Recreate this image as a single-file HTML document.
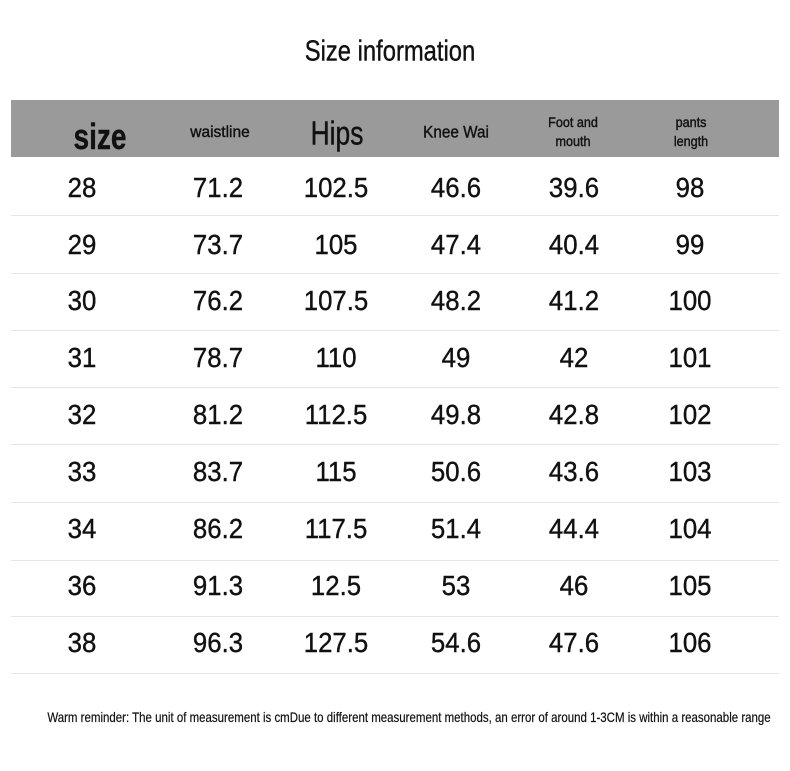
<!DOCTYPE html>
<html><head><style>
body{margin:0;width:790px;height:771px;background:#fff;position:relative;overflow:hidden;font-family:"Liberation Sans",sans-serif;color:#111}
.t{position:absolute;white-space:nowrap;transform:translate(-50%,-50%) scaleX(0.9);line-height:1;-webkit-text-stroke:0.4px #111}
.band{position:absolute;left:11px;top:100px;width:768px;height:57px;background:#9a9a9a}
.ln{position:absolute;left:11px;width:768px;height:1px;background:#e6e6e6}
</style></head><body>
<div class="t" style="left:390px;top:52px;font-size:29px;transform:translate(-50%,-50%) scaleX(0.82)">Size information</div>
<div class="band"></div>
<div class="t" style="left:100px;top:137px;font-size:36px;font-weight:bold;transform:translate(-50%,-50%) scaleX(0.78)">size</div>
<div class="t" style="left:220px;top:133px;font-size:16px;transform:translate(-50%,-50%) scaleX(0.97)">waistline</div>
<div class="t" style="left:337px;top:133px;font-size:33px;transform:translate(-50%,-50%) scaleX(0.8)">Hips</div>
<div class="t" style="left:456px;top:132px;font-size:17px">Knee Wai</div>
<div class="t" style="left:573px;top:132px;font-size:14px;line-height:19px;text-align:center">Foot and<br>mouth</div>
<div class="t" style="left:691px;top:132px;font-size:14px;line-height:19px;text-align:center">pants<br>length</div>
<div id="rows"></div>
<div class="t" style="left:409px;top:717px;font-size:14px;transform:translate(-50%,-50%) scaleX(0.82);-webkit-text-stroke:0.2px #111">Warm reminder: The unit of measurement is cmDue to different measurement methods, an error of around 1-3CM is within a reasonable range</div>
<script>
var d=[["28","71.2","102.5","46.6","39.6","98"],["29","73.7","105","47.4","40.4","99"],["30","76.2","107.5","48.2","41.2","100"],["31","78.7","110","49","42","101"],["32","81.2","112.5","49.8","42.8","102"],["33","83.7","115","50.6","43.6","103"],["34","86.2","117.5","51.4","44.4","104"],["36","91.3","12.5","53","46","105"],["38","96.3","127.5","54.6","47.6","106"]];
var xs=[82,218,336,456,574,690],ys=[188,245,301,358,415,472,529,586,643],ls=[215,273,330,387,444,502,560,616,673],h="";
d.forEach(function(r,i){r.forEach(function(v,j){h+='<div class="t" style="left:'+xs[j]+'px;top:'+ys[i]+'px;font-size:28px;transform:translate(-50%,-50%) scaleX(0.92)">'+v+'</div>'});h+='<div class="ln" style="top:'+ls[i]+'px"></div>'});
document.getElementById("rows").innerHTML=h;
</script>
</body></html>
